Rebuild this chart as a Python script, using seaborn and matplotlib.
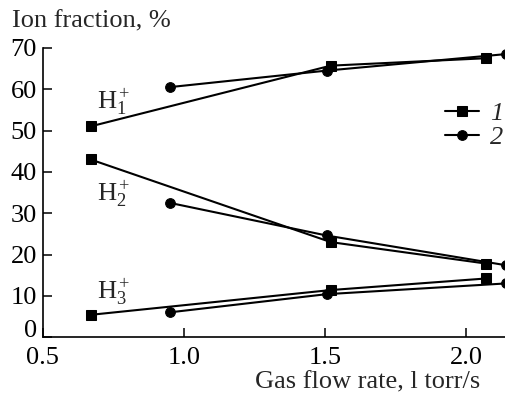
import matplotlib
matplotlib.use("Agg")
import matplotlib.pyplot as plt
import seaborn as sns
import pandas as pd

# Data
x_s1 = [0.67, 1.52, 2.07]
x_s2 = [0.95, 1.505, 2.14]
h1_s1 = [51.0, 65.7, 67.5]
h1_s2 = [60.5, 64.5, 68.5]
h2_s1 = [43.0, 23.0, 17.8]
h2_s2 = [32.5, 24.6, 17.4]
h3_s1 = [5.4, 11.4, 14.2]
h3_s2 = [6.0, 10.4, 13.0]
series_labels = ["1", "2"]
ion_labels = [r"H$_1^+$", r"H$_2^+$", r"H$_3^+$"]

rows = []
for ion, (a, b) in zip(["H1", "H2", "H3"], [(h1_s1, h1_s2), (h2_s1, h2_s2), (h3_s1, h3_s2)]):
    for xv, yv in zip(x_s1, a):
        rows.append(dict(x=xv, y=yv, series="1", ion=ion))
    for xv, yv in zip(x_s2, b):
        rows.append(dict(x=xv, y=yv, series="2", ion=ion))
df = pd.DataFrame(rows)

sns.set_style("ticks")
plt.rcParams["font.family"] = ["Liberation Serif", "DejaVu Serif"]
plt.rcParams["mathtext.fontset"] = "custom"
plt.rcParams["mathtext.rm"] = "Liberation Serif"
plt.rcParams["mathtext.it"] = "Liberation Serif:italic"

FS = 19

fig = plt.figure(figsize=(5.06, 3.99), dpi=100)
ax = fig.add_axes([0.084, 0.155, 0.916, 0.725])

markers = {"1": "s", "2": "o"}
msize = {"1": 6.5, "2": 7}
for ion in ["H1", "H2", "H3"]:
    for s in series_labels:
        sub = df[(df.ion == ion) & (df.series == s)]
        sns.lineplot(data=sub, x="x", y="y", ax=ax, color="black", lw=1.5,
                     marker=markers[s], markersize=msize[s], markeredgecolor="black",
                     estimator=None, sort=False, clip_on=False if s == "1" else True,
                     label=s if ion == "H1" else None, legend=False)

ax.set_xlim(0.5, 2.14)
ax.set_ylim(0, 70)
ax.set_xticks([0.5, 1.0, 1.5, 2.0])
ax.set_xticklabels(["0.5", "1.0", "1.5", "2.0"])
ax.set_yticks(range(0, 71, 10))
ax.tick_params(direction="in", length=6.5, width=1.1, labelsize=FS, colors="black")
ax.tick_params(axis="x", pad=7)
ax.tick_params(axis="y", pad=4)
for sp in ["top", "right"]:
    ax.spines[sp].set_visible(False)
for sp in ["left", "bottom"]:
    ax.spines[sp].set_linewidth(1.2)
    ax.spines[sp].set_color("black")
ax.set_xlabel("")
ax.set_ylabel("")
ax.get_yticklabels()[0].set_va("baseline")

fig.text(12 / 506, 1 - 27 / 399, "Ion fraction, %", fontsize=FS, va="baseline", ha="left")
fig.text(480 / 506, 1 - 388 / 399, "Gas flow rate, l torr/s", fontsize=FS, va="baseline", ha="right")

ax.text(0.693, 55.4, ion_labels[0], fontsize=FS, va="baseline", ha="left")
ax.text(0.693, 33.2, ion_labels[1], fontsize=FS, va="baseline", ha="left")
ax.text(0.693, 9.4, ion_labels[2], fontsize=FS, va="baseline", ha="left")

handles, labels = ax.get_legend_handles_labels()
leg = ax.legend(handles, labels, loc="center left", bbox_to_anchor=(0.846, 0.732),
                frameon=False, handlelength=1.29, handletextpad=0.42, labelspacing=0.0,
                borderaxespad=0.0,
                prop={"family": "Liberation Serif", "style": "italic", "size": FS})

fig.savefig("out.png", dpi=100)
